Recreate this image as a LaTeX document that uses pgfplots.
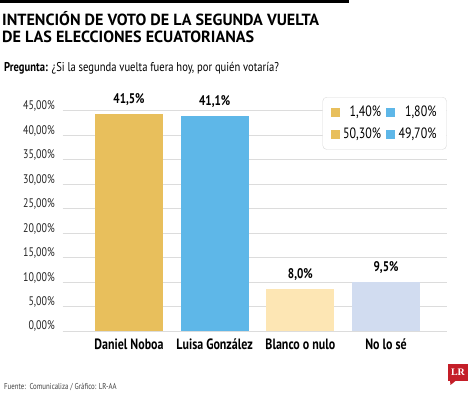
\documentclass[border=0pt]{standalone}
\usepackage{pgfplots}
\pgfplotsset{compat=1.18}
\usepackage{fontspec}
\setmainfont{PT Sans}
\newfontfamily\cond{PT Sans}[FakeStretch=0.8]
\newfontfamily\condb{PT Sans}[FakeStretch=0.83]
\newfontfamily\lrfont{Liberation Serif}
\definecolor{cA}{RGB}{232,191,92}
\definecolor{cB}{RGB}{94,183,232}
\definecolor{cC}{RGB}{253,230,180}
\definecolor{cD}{RGB}{209,220,240}
\definecolor{gridc}{RGB}{220,220,220}
\definecolor{lrred}{RGB}{196,30,40}
\begin{document}
\begin{tikzpicture}
\path[use as bounding box] (0,0) rectangle (474bp,395bp);
\fill[black] (0,391.5bp) rectangle (349bp,395bp);
\node[anchor=base west, inner sep=0pt, font=\fontsize{16.2}{17}\selectfont\bfseries] at (2bp,369bp) {INTENCIÓN DE VOTO DE LA SEGUNDA VUELTA};
\node[anchor=base west, inner sep=0pt, font=\fontsize{16.2}{17}\selectfont\bfseries] at (2bp,352.3bp) {DE LAS ELECCIONES ECUATORIANAS};
\node[anchor=base west, inner sep=0pt, font=\fontsize{12.8}{14}\selectfont\condb] at (4bp,323.5bp) {\textbf{Pregunta:} ¿Si la segunda vuelta fuera hoy, por quién votaría?};
\begin{axis}[
  at={(62.7bp,64bp)}, anchor=south west,
  scale only axis, width=384bp, height=220.3bp,
  xmin=-0.774, xmax=3.708, ymin=0, ymax=45,
  clip=false,
  axis line style={draw=none}, tick style={draw=none},
  ymajorgrids, grid style={gridc, line width=0.8pt},
  ytick={0,5,...,45},
  yticklabels={{0,00\%},{5,00\%},{10,00\%},{15,00\%},{20,00\%},{25,00\%},{30,00\%},{35,00\%},{40,00\%},{45,00\%}},
  yticklabel style={anchor=base east, inner sep=0pt, xshift=-7.7bp, yshift=1bp, font=\fontsize{12.5}{14}\selectfont\cond, text=black!85},
  xtick={0,1,2,3},
  xticklabels={Daniel Noboa,Luisa González,Blanco o nulo,No lo sé},
  xticklabel style={anchor=base, inner sep=0pt, yshift=-18.3bp, font=\fontsize{15}{16}\selectfont\cond\bfseries},
  legend columns=2, legend cell align=right,
  legend style={at={(1,1)}, anchor=north east, yshift=13.7bp, draw=black!15, rounded corners=4bp,
    font=\fontsize{15}{16}\selectfont\cond, inner xsep=8bp, inner ysep=7bp, row sep=6bp,
    /tikz/every even column/.append style={column sep=3bp},
    /tikz/every odd column/.append style={column sep=2bp}},
]
\addplot[ybar, bar width=68bp, bar shift=0pt, fill=cA, draw=none, nodes near coords, point meta=explicit symbolic,
  every node near coord/.append style={anchor=base, inner sep=0pt, yshift=10.5bp, font=\fontsize{14}{15}\selectfont\cond\bfseries, text=black}, forget plot]
  coordinates {(0,44.4) [41,5\%]};
\addplot[ybar, bar width=68bp, bar shift=0pt, fill=cB, draw=none, nodes near coords, point meta=explicit symbolic,
  every node near coord/.append style={anchor=base, inner sep=0pt, yshift=10.5bp, font=\fontsize{14}{15}\selectfont\cond\bfseries, text=black}, forget plot]
  coordinates {(1,44.0) [41,1\%]};
\addplot[ybar, bar width=68bp, bar shift=0pt, fill=cC, draw=none, nodes near coords, point meta=explicit symbolic,
  every node near coord/.append style={anchor=base, inner sep=0pt, yshift=10.5bp, font=\fontsize{14}{15}\selectfont\cond\bfseries, text=black}, forget plot]
  coordinates {(2,8.6) [8,0\%]};
\addplot[ybar, bar width=68bp, bar shift=0pt, fill=cD, draw=none, nodes near coords, point meta=explicit symbolic,
  every node near coord/.append style={anchor=base, inner sep=0pt, yshift=10.5bp, font=\fontsize{14}{15}\selectfont\cond\bfseries, text=black}, forget plot]
  coordinates {(3,10.1) [9,5\%]};
\addlegendimage{legend image code/.code={\fill[cA, sharp corners] (0bp,-4bp) rectangle (8bp,4bp);}}
\addlegendentry{1,40\%}
\addlegendimage{legend image code/.code={\fill[cB, sharp corners] (0bp,-4bp) rectangle (8bp,4bp);}}
\addlegendentry{1,80\%}
\addlegendimage{legend image code/.code={\fill[cA, sharp corners] (0bp,-4bp) rectangle (8bp,4bp);}}
\addlegendentry{50,30\%}
\addlegendimage{legend image code/.code={\fill[cB, sharp corners] (0bp,-4bp) rectangle (8bp,4bp);}}
\addlegendentry{49,70\%}
\end{axis}
\node[anchor=base west, inner sep=0pt, font=\fontsize{8.6}{10}\selectfont\cond, text=black!75] at (4bp,6bp) {Fuente:\ \ Comunicaliza / Gráfico: LR-AA};
\fill[lrred] (448bp,14.3bp) rectangle (468bp,31bp);
\fill[lrred] (450bp,14.5bp) -- (456bp,14.5bp) -- (450.5bp,10bp) -- cycle;
\node[inner sep=0pt, text=white, font=\fontsize{10}{10}\selectfont\lrfont\bfseries] at (458bp,22.8bp) {LR};
\end{tikzpicture}
\end{document}
